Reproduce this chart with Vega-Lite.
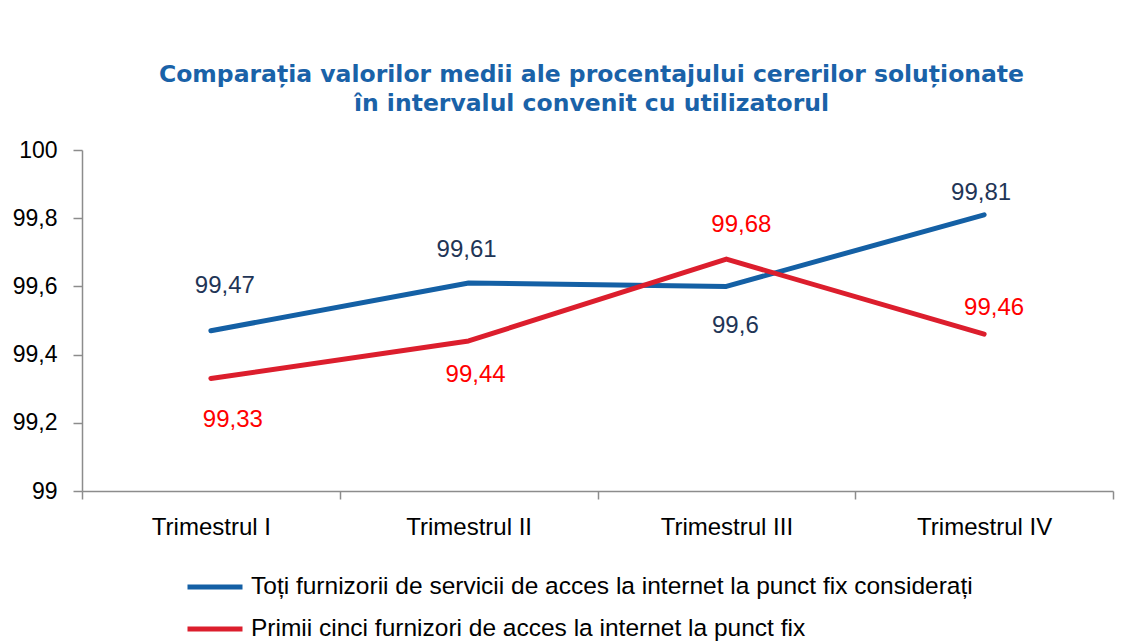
{
  "$schema": "https://vega.github.io/schema/vega-lite/v6.json",
  "width": 1031,
  "height": 341,
  "autosize": {"type": "none"},
  "padding": {"left": 82, "top": 150, "right": 16, "bottom": 150},
  "background": "white",
  "title": {
    "text": ["Comparația valorilor medii ale procentajului cererilor soluționate", "în intervalul convenit cu utilizatorul"],
    "font": "DejaVu Sans",
    "fontSize": 23.5,
    "fontWeight": "bold",
    "color": "#1A62A8",
    "anchor": "middle",
    "dx": -6,
    "offset": 24,
    "lineHeight": 29
  },
  "data": {
    "values": [
      {"quarter": "Trimestrul I", "series": "Toți furnizorii de servicii de acces la internet la punct fix considerați", "value": 99.47},
      {"quarter": "Trimestrul II", "series": "Toți furnizorii de servicii de acces la internet la punct fix considerați", "value": 99.61},
      {"quarter": "Trimestrul III", "series": "Toți furnizorii de servicii de acces la internet la punct fix considerați", "value": 99.6},
      {"quarter": "Trimestrul IV", "series": "Toți furnizorii de servicii de acces la internet la punct fix considerați", "value": 99.81},
      {"quarter": "Trimestrul I", "series": "Primii cinci furnizori de acces la internet la punct fix", "value": 99.33},
      {"quarter": "Trimestrul II", "series": "Primii cinci furnizori de acces la internet la punct fix", "value": 99.44},
      {"quarter": "Trimestrul III", "series": "Primii cinci furnizori de acces la internet la punct fix", "value": 99.68},
      {"quarter": "Trimestrul IV", "series": "Primii cinci furnizori de acces la internet la punct fix", "value": 99.46}
    ]
  },
  "encoding": {
    "x": {
      "field": "quarter",
      "type": "nominal",
      "sort": ["Trimestrul I", "Trimestrul II", "Trimestrul III", "Trimestrul IV"],
      "scale": {"type": "band", "paddingInner": 0, "paddingOuter": 0},
      "axis": {
        "title": null,
        "labelAngle": 0,
        "tickBand": "extent",
        "domainColor": "#8C8C8C",
        "tickColor": "#8C8C8C",
        "domainWidth": 1.5,
        "tickWidth": 1.5,
        "tickSize": 8,
        "labelPadding": 16,
        "labelFont": "Liberation Sans",
        "labelFontSize": 24,
        "labelColor": "#000000",
        "grid": false
      }
    },
    "y": {
      "field": "value",
      "type": "quantitative",
      "scale": {"domain": [99, 100], "nice": false, "zero": false},
      "axis": {
        "title": null,
        "values": [99, 99.2, 99.4, 99.6, 99.8, 100],
        "format": ".4~r",
        "grid": false,
        "domainColor": "#8C8C8C",
        "tickColor": "#8C8C8C",
        "domainWidth": 1.5,
        "tickWidth": 1.5,
        "tickSize": 9,
        "labelPadding": 16,
        "labelFont": "Liberation Sans",
        "labelFontSize": 23,
        "labelColor": "#000000"
      }
    }
  },
  "layer": [
    {
      "mark": {"type": "line", "strokeWidth": 5, "strokeCap": "round", "strokeJoin": "round"},
      "encoding": {
        "color": {
          "field": "series",
          "type": "nominal",
          "scale": {
            "domain": ["Toți furnizorii de servicii de acces la internet la punct fix considerați", "Primii cinci furnizori de acces la internet la punct fix"],
            "range": ["#1460A5", "#DC1E2D"]
          },
          "legend": {
            "title": null,
            "orient": "none",
            "legendX": 103,
            "legendY": 407,
            "direction": "vertical",
            "symbolType": "stroke",
            "symbolStrokeWidth": 5,
            "symbolSize": 3025,
            "labelFont": "Liberation Sans",
            "labelFontSize": 24.5,
            "labelColor": "#000000",
            "labelLimit": 0,
            "labelOffset": 6,
            "rowPadding": -13
          }
        }
      }
    },
    {
      "mark": {
        "type": "text",
        "font": "Liberation Sans",
        "fontSize": 24,
        "align": "center",
        "baseline": "middle",
        "fill": {"expr": "datum.series == 'Primii cinci furnizori de acces la internet la punct fix' ? '#FF0000' : '#1F3556'"},
        "dx": {"expr": "datum.series == 'Primii cinci furnizori de acces la internet la punct fix' ? (datum.quarter == 'Trimestrul I' ? 22 : datum.quarter == 'Trimestrul II' ? 7 : datum.quarter == 'Trimestrul III' ? 15 : 10) : (datum.quarter == 'Trimestrul I' ? 14 : datum.quarter == 'Trimestrul II' ? -2 : datum.quarter == 'Trimestrul III' ? 9 : -3)"},
        "dy": {"expr": "datum.series == 'Primii cinci furnizori de acces la internet la punct fix' ? (datum.quarter == 'Trimestrul I' ? 42 : datum.quarter == 'Trimestrul II' ? 34 : datum.quarter == 'Trimestrul III' ? -34 : -26) : (datum.quarter == 'Trimestrul I' ? -45 : datum.quarter == 'Trimestrul II' ? -33 : datum.quarter == 'Trimestrul III' ? 40 : -22)"}
      },
      "encoding": {
        "text": {"field": "value", "type": "quantitative", "format": ".4~r"},
        "detail": {"field": "series", "type": "nominal"}
      }
    }
  ],
  "config": {
    "locale": {
      "number": {"decimal": ",", "thousands": ".", "grouping": [3], "currency": ["", " lei"]}
    },
    "view": {"stroke": null}
  }
}
